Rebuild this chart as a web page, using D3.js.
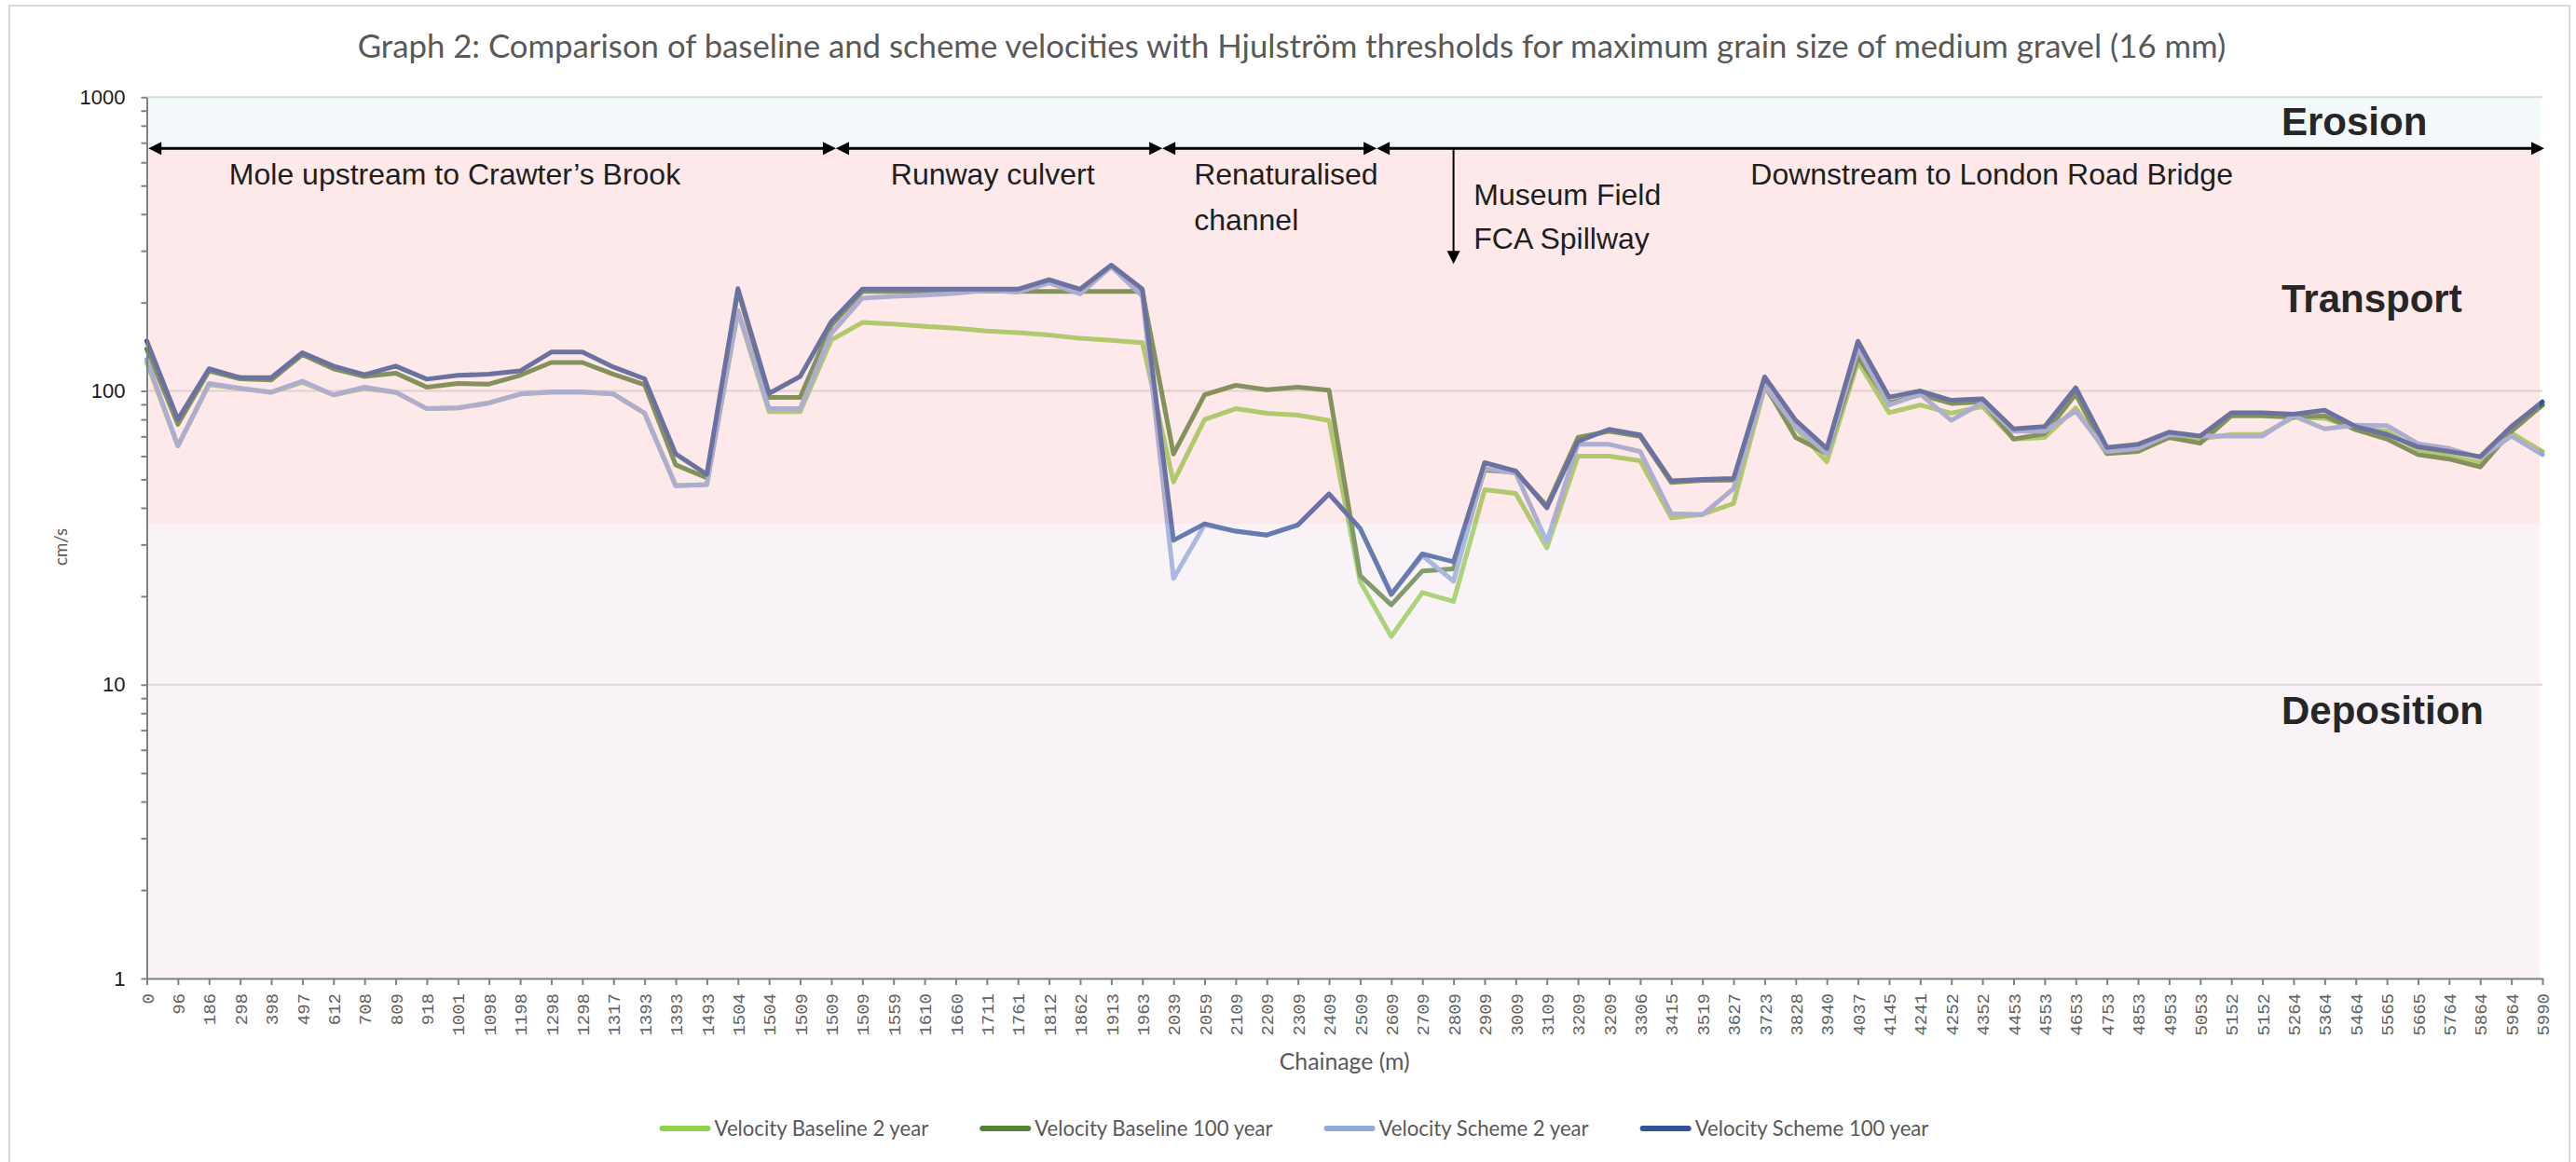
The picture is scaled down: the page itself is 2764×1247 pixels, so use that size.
<!DOCTYPE html>
<html>
<head>
<meta charset="utf-8">
<script src="https://cdn.jsdelivr.net/npm/d3@7"></script>
<style>
  body { margin: 0; background: #fff; }
  svg { display: block; }
</style>
</head>
<body>
<script>
// chainage labels along the river (m), in survey order
const chainage = [0, 96, 186, 298, 398, 497, 612, 708, 809, 918, 1001, 1098, 1198, 1298, 1298, 1317,
  1393, 1393, 1493, 1504, 1504, 1509, 1509, 1509, 1559, 1610, 1660, 1711, 1761, 1812, 1862, 1913,
  1963, 2039, 2059, 2109, 2209, 2309, 2409, 2509, 2609, 2709, 2809, 2909, 3009, 3109, 3209, 3209,
  3306, 3415, 3519, 3627, 3723, 3828, 3940, 4037, 4145, 4241, 4252, 4352, 4453, 4553, 4653, 4753,
  4853, 4953, 5053, 5152, 5152, 5264, 5364, 5464, 5565, 5665, 5764, 5864, 5964, 5990];

// velocities, cm/s
const baseline2 = [125, 65, 105, 102, 99, 107, 97, 102, 99, 87, 87.5, 91, 97.6, 99, 99, 97.6,
  84, 47.6, 48, 186, 85, 85, 149, 171, 169, 166, 163.5, 160, 158, 155, 151, 148.7,
  146, 49, 80, 87, 84, 82.7, 79.3, 22.4, 14.6, 20.6, 19.2, 46.1, 44.8, 29.2, 60, 60,
  57.8, 37, 38, 41.4, 102.5, 74.6, 57.4, 126, 84.3, 89.6, 84, 88.5, 68.6, 69.4, 87.5, 61.2,
  63, 69.4, 68.6, 71.1, 71.1, 81.3, 80.7, 74.6, 72.9, 63, 60, 57, 71.9, 62.2];
const baseline100 = [139, 77, 117, 110, 109, 133, 119, 112, 115, 103, 106, 105.5, 113, 125, 125, 114,
  105, 56, 50.6, 220, 95, 95, 167, 218, 218, 218, 219, 219, 218, 218, 218, 218,
  218, 61, 97, 104.5, 101, 103, 100.5, 23.5, 18.7, 24.4, 24.8, 53.8, 52.9, 40.7, 69.4, 72.9,
  70, 48.8, 49.6, 49.7, 105, 69.4, 61.2, 130.7, 91, 97.1, 90.7, 91.8, 68.6, 71.5, 97.6, 61.2,
  62.2, 69.4, 66.4, 82.3, 82.3, 81.3, 82.3, 73.8, 68.6, 60.7, 58.6, 55.1, 72.9, 89.6];
const scheme2 = [128, 65, 106, 102, 99, 108, 97, 103, 99, 87, 87.5, 91, 97.6, 99.3, 99.3, 97.6,
  84, 47.6, 48, 188, 87, 87, 157, 207, 210, 212, 215, 220, 217, 233, 214, 265,
  210, 23, 35, 33.3, 32.3, 35, 44.6, 34, 20.3, 27.5, 22.5, 54.5, 52.5, 30.7, 66, 65.8,
  62.2, 38.2, 37.9, 46.5, 104, 75.6, 61.2, 139, 89.6, 97.6, 79.4, 91.2, 72.9, 72.9, 85.4, 62.2,
  63.7, 71, 70.2, 70.2, 70.2, 82.3, 74.3, 76.5, 76.2, 66.1, 63.7, 59.3, 70.2, 60.7];
const scheme100 = [148, 80, 119, 111, 111, 135, 121.5, 113.5, 121.5, 109.7, 113, 114, 117, 135.6, 135.6, 120.6,
  110, 61, 52, 223, 98, 112, 172, 222, 222, 222, 222, 222, 222, 239, 222, 268,
  222, 31, 35.3, 33.3, 32.3, 35, 44.6, 34, 20.3, 27.9, 26.2, 57, 53.4, 40, 67.4, 74,
  70.8, 49.4, 50, 50.3, 111.6, 79.4, 63.7, 147.6, 95.2, 100, 92.9, 94, 74.3, 75.6, 102.5, 64.2,
  65.8, 72.4, 70.2, 84.3, 84.3, 83.3, 86, 75.6, 71.1, 64.5, 62.2, 59.7, 75.6, 91.8];

const seriesNames = ["Velocity Baseline 2 year", "Velocity Baseline 100 year",
  "Velocity Scheme 2 year", "Velocity Scheme 100 year"];
const seriesColors = ["#92d050", "#548235", "#8faadc", "#2f5597"];

// Hjulstrom thresholds for 16 mm gravel (cm/s)
const erosionLimit = 670;
const depositionLimit = 35.3;

// reach boundaries, in chainage-index units
const reachEdges = [0.05, 22.15, 32.64, 39.53, 77.06];
const spillwayAt = 42;

const W = 2764, H = 1247;
const plotLeft = 157.5, plotRight = 2728, plotTop = 104.3, plotBottom = 1050;

const svg = d3.select("body").append("svg")
  .attr("width", W)
  .attr("height", H);

svg.append("rect")
  .attr("x", 10).attr("y", 6)
  .attr("width", 2747).attr("height", 1270)
  .attr("fill", "#fff")
  .attr("stroke", "#d9d9d9")
  .attr("stroke-width", 2);

var x = d3.scalePoint()
  .domain(d3.range(chainage.length))
  .range([plotLeft, plotRight]);
var xAt = f => x(0) + f * x.step();

var y = d3.scaleLog()
  .domain([1, 1000])
  .range([plotBottom, plotTop]);

function fitWidth (sel, w) {
  var len = sel.node().getComputedTextLength();
  sel.attr("font-size", parseFloat(sel.attr("font-size")) * w / len);
}

// title
var title = svg.append("text")
  .attr("x", 1386).attr("y", 61.5)
  .attr("text-anchor", "middle")
  .attr("font-family", "Lato, 'Open Sans', sans-serif")
  .attr("font-size", 34)
  .attr("fill", "#595959")
  .text("Graph 2: Comparison of baseline and scheme velocities with Hjulström thresholds for maximum grain size of medium gravel (16 mm)");
fitWidth(title, 2005);

// gridlines
svg.append("g").selectAll("line")
  .data([10, 100, 1000])
  .enter().append("line")
  .attr("x1", plotLeft).attr("x2", plotRight)
  .attr("y1", d => y(d)).attr("y2", d => y(d))
  .attr("stroke", "#d9d9d9")
  .attr("stroke-width", 2);

// series lines
var series = [baseline2, baseline100, scheme2, scheme100];
var line = d3.line()
  .x((d, i) => x(i))
  .y(d => y(d));

svg.append("g").selectAll("path")
  .data(series)
  .enter().append("path")
  .attr("d", line)
  .attr("fill", "none")
  .attr("stroke", (d, i) => seriesColors[i])
  .attr("stroke-width", 5)
  .attr("stroke-linejoin", "round")
  .attr("stroke-linecap", "round");

// translucent Hjulstrom zones laid over the plot
var bands = [
  { hi: 1000, lo: erosionLimit, fill: "#d7e7f1" },
  { hi: erosionLimit, lo: depositionLimit, fill: "#f8b6b6" },
  { hi: depositionLimit, lo: 1, fill: "#ebd7e4" }
];
svg.append("g").selectAll("rect")
  .data(bands)
  .enter().append("rect")
  .attr("x", 159.5)
  .attr("width", 2725 - 159.5)
  .attr("y", d => y(d.hi))
  .attr("height", d => y(d.lo) - y(d.hi))
  .attr("fill", d => d.fill)
  .attr("fill-opacity", 0.3);

// axes
var xAxis = svg.append("g")
  .attr("transform", "translate(0," + plotBottom + ")")
  .call(d3.axisBottom(x).tickSize(7).tickSizeOuter(0).tickFormat(i => chainage[i]));
xAxis.select(".domain").attr("stroke", "#808080").attr("stroke-width", 2);
xAxis.selectAll(".tick line").attr("stroke", "#808080").attr("stroke-width", 2);
xAxis.selectAll(".tick text")
  .attr("y", 0).attr("x", -16)
  .attr("dy", "0.35em")
  .attr("transform", "rotate(-90)")
  .attr("text-anchor", "end")
  .attr("font-family", "'Liberation Mono', 'DejaVu Sans Mono', monospace")
  .attr("font-size", 19)
  .attr("fill", "#626262");

var yAxis = svg.append("g")
  .attr("transform", "translate(" + plotLeft + ",0)")
  .call(d3.axisLeft(y)
    .tickValues(y.ticks())
    .tickSize(6)
    .tickSizeOuter(0)
    .tickPadding(17)
    .tickFormat(d => [1, 10, 100, 1000].includes(d) ? d : ""));
yAxis.select(".domain").attr("stroke", "#808080").attr("stroke-width", 2);
yAxis.selectAll(".tick line").attr("stroke", "#808080").attr("stroke-width", 2);
yAxis.selectAll(".tick text")
  .attr("font-family", "'Liberation Sans', Arial, sans-serif")
  .attr("font-size", 22)
  .attr("fill", "#1a1a1a");

// axis titles
var xTitle = svg.append("text")
  .attr("x", (plotLeft + plotRight) / 2).attr("y", 1148)
  .attr("text-anchor", "middle")
  .attr("font-family", "Lato, sans-serif")
  .attr("font-size", 24)
  .attr("fill", "#595959")
  .text("Chainage (m)");
fitWidth(xTitle, 140);

var yTitle = svg.append("text")
  .attr("transform", "translate(72,587) rotate(-90)")
  .attr("text-anchor", "middle")
  .attr("font-family", "Lato, sans-serif")
  .attr("font-size", 20)
  .attr("fill", "#595959")
  .text("cm/s");
fitWidth(yTitle, 40);

// reach arrows
var arrowY = y(erosionLimit);
var ann = svg.append("g");
var head = 14;
for (var k = 0; k < reachEdges.length - 1; k++) {
  var xa = xAt(reachEdges[k]), xb = xAt(reachEdges[k + 1]);
  ann.append("line")
    .attr("x1", xa + head - 2).attr("x2", xb - head + 2)
    .attr("y1", arrowY).attr("y2", arrowY)
    .attr("stroke", "#000").attr("stroke-width", 3);
  ann.append("path")
    .attr("d", "M" + xa + "," + arrowY + "l" + head + "," + (-7) + "v14z")
    .attr("fill", "#000");
  ann.append("path")
    .attr("d", "M" + xb + "," + arrowY + "l" + (-head) + "," + (-7) + "v14z")
    .attr("fill", "#000");
}
// spillway pointer
var sx = xAt(spillwayAt);
ann.append("line")
  .attr("x1", sx).attr("x2", sx)
  .attr("y1", arrowY).attr("y2", arrowY + 112)
  .attr("stroke", "#000").attr("stroke-width", 2);
ann.append("path")
  .attr("d", "M" + sx + "," + (arrowY + 124) + "l-7,-14h14z")
  .attr("fill", "#000");

var notes = [
  { t: "Mole upstream to Crawter’s Brook", at: 9.9, dy: 39, a: "middle" },
  { t: "Runway culvert", at: 27.19, dy: 39, a: "middle" },
  { t: "Renaturalised", at: 33.66, dy: 39, a: "start" },
  { t: "channel", at: 33.66, dy: 88, a: "start" },
  { t: "Museum Field", at: 42.65, dy: 61, a: "start" },
  { t: "FCA Spillway", at: 42.65, dy: 108, a: "start" },
  { t: "Downstream to London Road Bridge", at: 59.3, dy: 39, a: "middle" }
];
ann.selectAll("text.note")
  .data(notes)
  .enter().append("text")
  .attr("class", "note")
  .attr("x", d => xAt(d.at))
  .attr("y", d => arrowY + d.dy)
  .attr("text-anchor", d => d.a)
  .attr("font-family", "'Liberation Sans', Arial, sans-serif")
  .attr("font-size", 32)
  .attr("fill", "#1e1e1e")
  .text(d => d.t);

// zone names
var zones = [
  { t: "Erosion", y: 145 },
  { t: "Transport", y: 335 },
  { t: "Deposition", y: 777 }
];
ann.selectAll("text.zone")
  .data(zones)
  .enter().append("text")
  .attr("class", "zone")
  .attr("x", 2448)
  .attr("y", d => d.y)
  .attr("font-family", "'Liberation Sans', Arial, sans-serif")
  .attr("font-weight", "bold")
  .attr("font-size", 42)
  .attr("fill", "#262626")
  .text(d => d.t);

// legend
var leg = svg.append("g");
var probe = leg.append("text")
  .attr("font-family", "Lato, sans-serif")
  .attr("font-size", 20)
  .text(seriesNames[3]);
fitWidth(probe, 251);
var legSize = parseFloat(probe.attr("font-size"));
probe.remove();

var items = seriesNames.map(function (name, i) {
  var g = leg.append("g");
  g.append("line")
    .attr("x1", 3).attr("x2", 52)
    .attr("y1", 0).attr("y2", 0)
    .attr("stroke", seriesColors[i])
    .attr("stroke-width", 6)
    .attr("stroke-linecap", "round");
  var t = g.append("text")
    .attr("x", 59)
    .attr("dy", "0.35em")
    .attr("font-family", "Lato, sans-serif")
    .attr("font-size", legSize)
    .attr("fill", "#595959")
    .text(name);
  return { g: g, w: 59 + t.node().getComputedTextLength() };
});
var total = d3.sum(items, d => d.w) + 55 * (items.length - 1);
var cx = 1388.5 - total / 2;
items.forEach(function (d) {
  d.g.attr("transform", "translate(" + cx + ",1211)");
  cx += d.w + 55;
});
</script>
</body>
</html>
